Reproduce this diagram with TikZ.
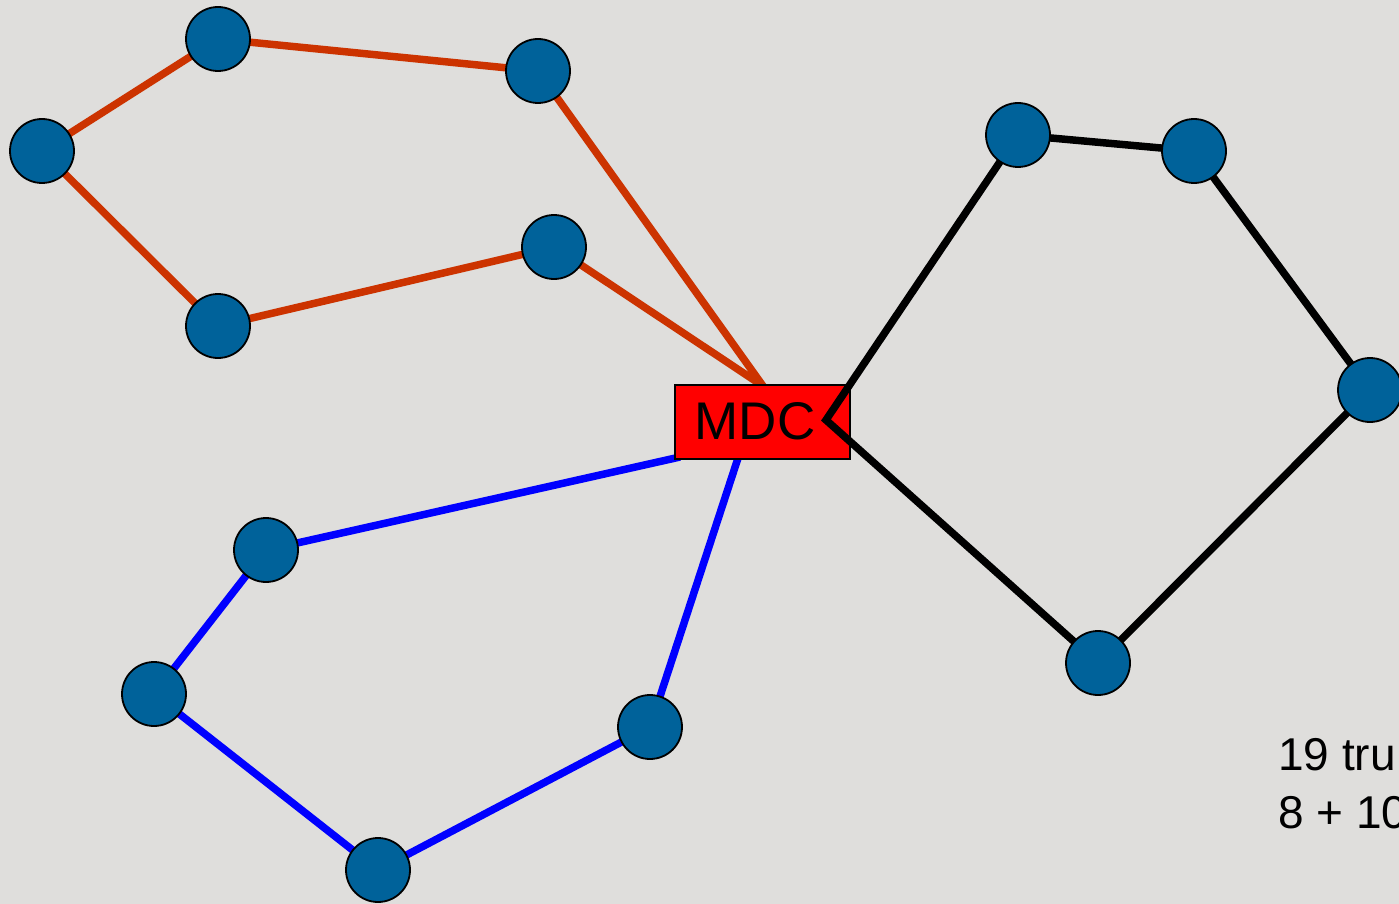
\documentclass[tikz,border=0pt]{standalone}
\usepackage{fontspec}
\setmainfont{Liberation Sans}
\definecolor{bg}{RGB}{223,222,220}
\definecolor{nodeblue}{RGB}{0,98,154}
\definecolor{rust}{RGB}{204,51,0}
\begin{document}
\begin{tikzpicture}[x=1pt,y=-1pt,
  dot/.style={circle,fill=nodeblue,draw=black,line width=1.8pt,minimum size=64pt,inner sep=0pt},
  redline/.style={rust,line width=7.5pt},
  blueline/.style={blue,line width=7.5pt},
  blackline/.style={black,line width=7.5pt},
  mdcbox/.style={rectangle,fill=red,draw=black,line width=1.2pt,minimum width=175pt,minimum height=74pt,inner sep=0pt},
  mdctext/.style={inner sep=0pt,font=\fontsize{53}{53}\selectfont},
  note/.style={anchor=base west,inner sep=0pt,font=\fontsize{46}{58}\selectfont}]
\useasboundingbox (0,0) rectangle (1399,904);
\clip (0,0) rectangle (1399,904);
\fill[bg] (0,0) rectangle (1399,904);
% node positions
\coordinate (pA1) at (218,39);
\coordinate (pA2) at (538,71);
\coordinate (pA3) at (42,151);
\coordinate (pA4) at (218,326);
\coordinate (pA5) at (554,247);
\coordinate (pB1) at (1018,135);
\coordinate (pB2) at (1194,151);
\coordinate (pB3) at (1370,390);
\coordinate (pB4) at (1098,663);
\coordinate (pC1) at (266,550);
\coordinate (pC2) at (154,694);
\coordinate (pC3) at (378,870);
\coordinate (pC4) at (650,727);
% attachment points on MDC
\coordinate (mT) at (763,386);
\coordinate (mBL) at (680,457);
\coordinate (mB) at (740,452);
\coordinate (mR) at (826,420);
% red and blue connectors
\draw[redline] (pA3) -- (pA1) -- (pA2) -- (mT);
\draw[redline] (pA3) -- (pA4) -- (pA5) -- (mT);
\draw[blueline] (mBL) -- (pC1) -- (pC2) -- (pC3) -- (pC4) -- (mB);
% MDC box
\node[mdcbox] (mdc) at (762.5,422) {};
\node[mdctext] (mdclabel) at (755,421) {MDC};
% black connectors
\draw[blackline,line join=miter] (pB1) -- (mR) -- (pB4);
\draw[blackline] (pB1) -- (pB2) -- (pB3) -- (pB4);
% circles
\foreach \n in {A1,A2,A3,A4,A5,B1,B2,B3,B4,C1,C2,C3,C4}
  \node[dot] (\n) at (p\n) {};
% note
\node[note] (n1) at (1278,770) {19 tru};
\node[note] (n2) at (1278,828) {8 + 10};
\end{tikzpicture}
\end{document}
